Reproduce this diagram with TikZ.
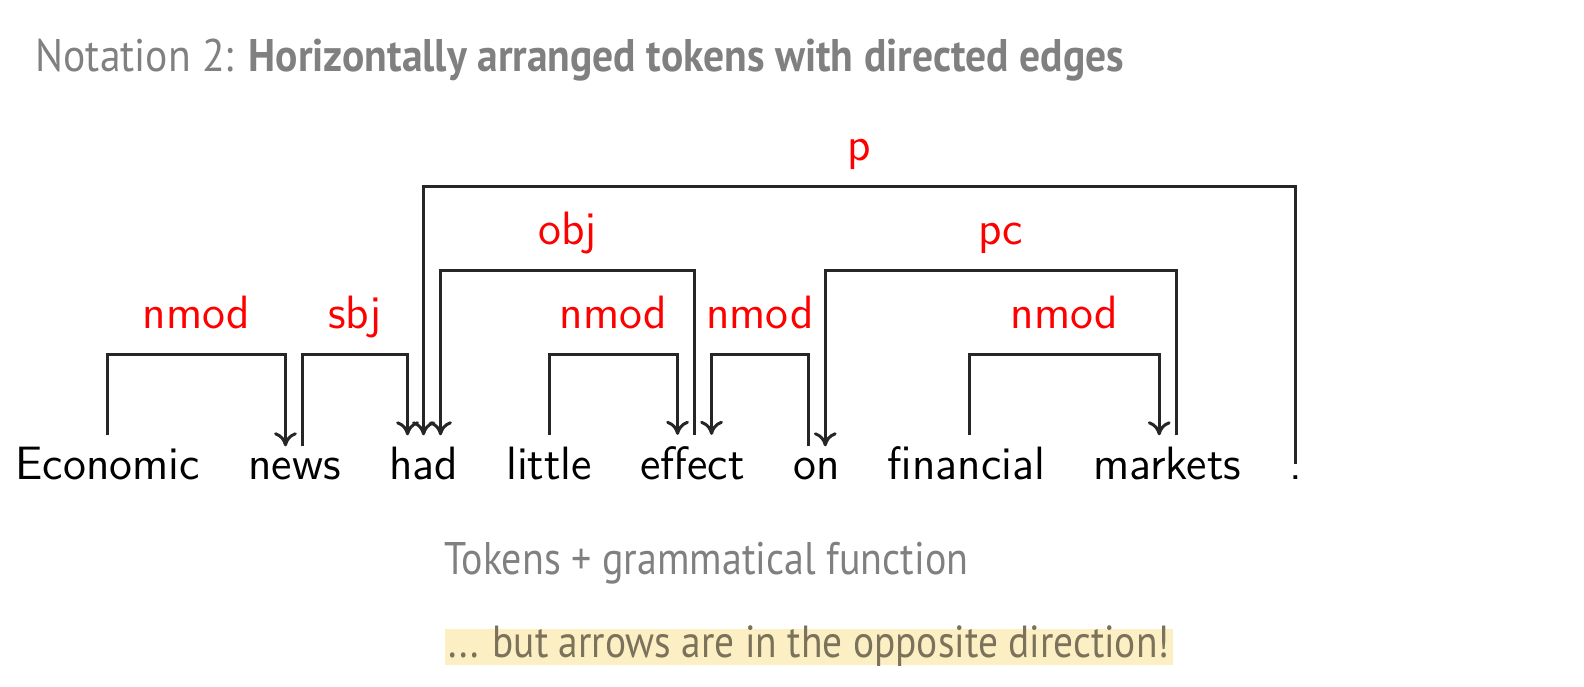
\documentclass[tikz,border=0pt]{standalone}
\usepackage{fontspec}
\newfontfamily\titlefont[FakeStretch=0.91]{PT Sans}
\newfontfamily\slidefont[FakeStretch=0.875]{PT Sans}
\usetikzlibrary{arrows.meta, positioning}
\definecolor{slidegray}{RGB}{128,128,128}
\definecolor{deplabel}{RGB}{255,0,0}
\definecolor{hlfill}{RGB}{253,239,196}
\definecolor{hltext}{RGB}{122,114,90}

\begin{document}
\begin{tikzpicture}[
    node distance=0.47cm,
    % -- tokens and arc labels --
    tok/.style={inner xsep=0pt, inner ysep=3pt,
                font=\sffamily\fontsize{13.3}{16}\selectfont},
    lbl/.style={inner sep=0pt, anchor=base, yshift=0.26cm, text=deplabel,
                font=\sffamily\fontsize{13.3}{16}\selectfont},
    dep/.style={line width=0.85pt, black!85, -{To[length=4pt,width=6.5pt]}},
    note/.style={inner sep=0pt, anchor=base west, text=slidegray,
                 font=\slidefont\fontsize{13}{16}\selectfont}
]
\useasboundingbox (0,0) rectangle (15.84,-6.86);

% === Title ===
\node[note, font=\titlefont\fontsize{13}{16}\selectfont] (title) at (0.35,-0.71)
  {Notation 2: \textbf{Horizontally arranged tokens with directed edges}};

% === Tokens ===
\node[tok, anchor=base west] (eco) at (0.15,-4.79) {Economic};
\node[tok, base right=of eco]  (news) {news};
\node[tok, base right=of news] (had)  {had};
\node[tok, base right=of had]  (lit)  {little};
\node[tok, base right=of lit]  (eff)  {effect};
\node[tok, base right=of eff]  (on)   {on};
\node[tok, base right=of on]   (fin)  {financial};
\node[tok, base right=of fin]  (mkt)  {markets};
\node[tok, base right=of mkt]  (dot)  {.};

% === Arc levels ===
\coordinate (lvlow) at (0,-3.54);
\coordinate (lvmid) at (0,-2.70);
\coordinate (lvtop) at (0,-1.86);

% === Dependency arcs ===
\draw[dep] (eco.north) -- (eco.north |- lvlow)
  -- node[lbl] {nmod} ([xshift=-0.09cm]news.north |- lvlow) -- ([xshift=-0.09cm]news.north);
\draw[dep] ([xshift=0.08cm]news.north) -- ([xshift=0.08cm]news.north |- lvlow)
  -- node[lbl] {sbj} ([xshift=-0.16cm]had.north |- lvlow) -- ([xshift=-0.16cm]had.north);
\draw[dep] (dot.north) -- (dot.north |- lvtop)
  -- node[lbl] {p} (had.north |- lvtop) -- (had.north);
\draw[dep] ([xshift=0.02cm]eff.north) -- ([xshift=0.02cm]eff.north |- lvmid)
  -- node[lbl] {obj} ([xshift=0.17cm]had.north |- lvmid) -- ([xshift=0.17cm]had.north);
\draw[dep] (lit.north) -- (lit.north |- lvlow)
  -- node[lbl] {nmod} ([xshift=-0.15cm]eff.north |- lvlow) -- ([xshift=-0.15cm]eff.north);
\draw[dep] ([xshift=-0.08cm]on.north) -- ([xshift=-0.08cm]on.north |- lvlow)
  -- node[lbl] {nmod} ([xshift=0.19cm]eff.north |- lvlow) -- ([xshift=0.19cm]eff.north);
\draw[dep] ([xshift=0.09cm]mkt.north) -- ([xshift=0.09cm]mkt.north |- lvmid)
  -- node[lbl] {pc} ([xshift=0.09cm]on.north |- lvmid) -- ([xshift=0.09cm]on.north);
\draw[dep] ([xshift=0.03cm]fin.north) -- ([xshift=0.03cm]fin.north |- lvlow)
  -- node[lbl] {nmod} ([xshift=-0.08cm]mkt.north |- lvlow) -- ([xshift=-0.08cm]mkt.north);

% === Notes ===
\node[note] (sub) at (4.44,-5.74) {Tokens + grammatical function};
\node[note, font=\slidefont\fontsize{12.8}{16}\selectfont, fill=hlfill, text=hltext,
      inner xsep=1pt, inner ysep=0.01cm, text height=0.27cm, text depth=0.07cm] (warn)
  at (4.44,-6.57) {... but arrows are in the opposite direction!};

\end{tikzpicture}
\end{document}
